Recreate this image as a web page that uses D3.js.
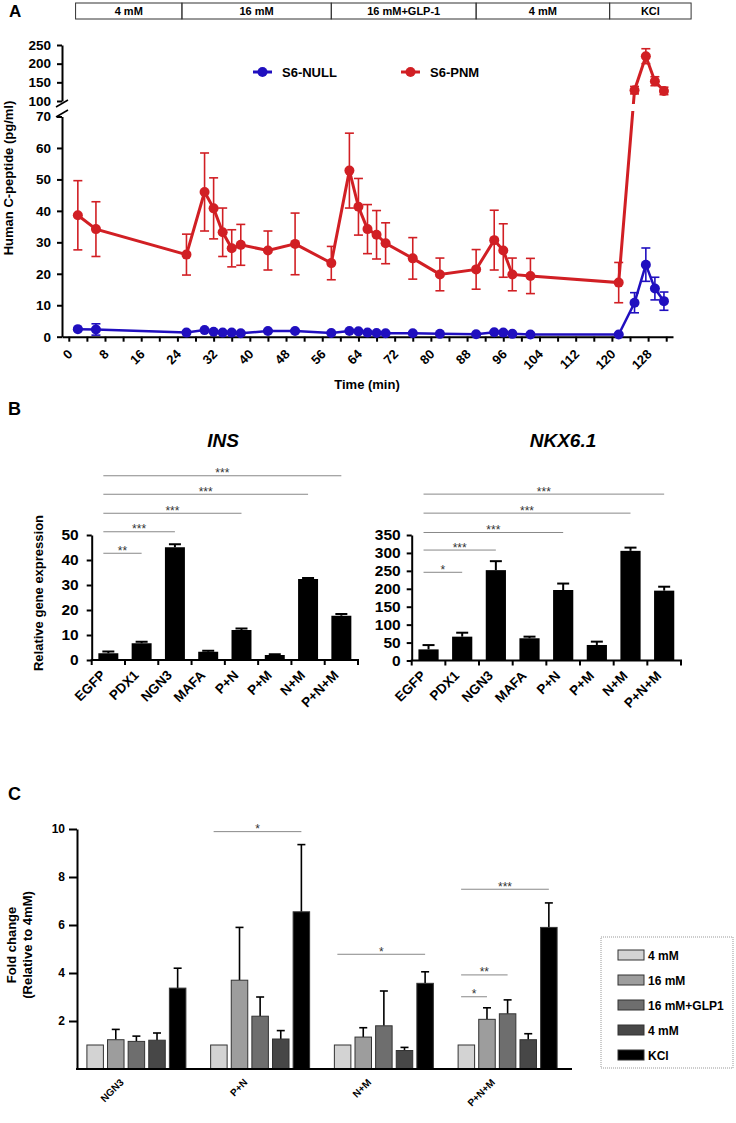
<!DOCTYPE html>
<html>
<head>
<meta charset="utf-8">
<script src="https://cdn.jsdelivr.net/npm/d3@7/dist/d3.min.js"></script>
<style>
html,body{margin:0;padding:0;background:#fff;}
svg{display:block;}
text{font-family:"Liberation Sans",Arial,Helvetica,sans-serif;}
</style>
</head>
<body>
<svg id="fig" width="736" height="1123" viewBox="0 0 736 1123"></svg>
<script>
// ================= DATA =================
// Panel A
const phaseLabels = ["4 mM", "16 mM", "16 mM+GLP-1", "4 mM", "KCl"];
const phaseBounds = [1.5, 25, 58, 90, 119.5, 137.5];
const timePoints = [2, 6, 26, 30, 32, 34, 36, 38, 44, 50, 58, 62, 64, 66, 68, 70, 76, 82, 90, 94, 96, 98, 102, 121.5, 125, 127.5, 129.5, 131.5];
const nullMean = [2.4, 2.3, 1.3, 2.1, 1.6, 1.3, 1.3, 1.1, 1.8, 1.8, 1.2, 1.8, 1.7, 1.3, 1.2, 1.1, 1.1, 0.9, 0.8, 1.4, 1.3, 0.9, 0.7, 0.7, 10.8, 22.9, 15.3, 11.3];
const nullSem  = [0.3, 1.8, 0.2, 0.3, 0.3, 0.2, 0.2, 0.2, 0.3, 0.3, 0.2, 0.3, 0.3, 0.2, 0.2, 0.2, 0.2, 0.2, 0.2, 0.3, 0.3, 0.2, 0.2, 0.2, 3.2, 5.3, 3.6, 2.9];
const pnmMean  = [38.6, 34.2, 26.1, 46.0, 40.8, 33.2, 28.1, 29.2, 27.4, 29.5, 23.4, 52.8, 41.3, 34.2, 32.4, 29.7, 24.9, 19.8, 21.4, 30.7, 27.4, 19.8, 19.3, 17.2, 129, 220, 153, 127];
const pnmSem   = [11.0, 8.7, 6.5, 12.4, 9.7, 7.7, 5.9, 6.5, 6.2, 9.8, 5.3, 11.9, 9.0, 7.8, 7.7, 6.5, 6.6, 5.2, 6.3, 9.5, 8.5, 5.2, 5.6, 6.4, 10, 20, 12, 10];
const timeTickLabels = [0, 8, 16, 24, 32, 40, 48, 56, 64, 72, 80, 88, 96, 104, 112, 120, 128];
const yLowerTicks = [0, 10, 20, 30, 40, 50, 60, 70];
const yUpperTicks = [100, 150, 200, 250];
const seriesNames = ["S6-NULL", "S6-PNM"];

// Panel B
const geneCategories = ["EGFP", "PDX1", "NGN3", "MAFA", "P+N", "P+M", "N+M", "P+N+M"];
const insMean = [2.7, 6.7, 45.1, 3.3, 12.0, 2.0, 32.4, 17.7];
const insErr  = [0.7, 0.6, 1.2, 0.4, 0.6, 0.3, 0.4, 0.7];
const insTicks = [0, 10, 20, 30, 40, 50];
const insSig = [["EGFP", "PDX1", "**", 42.7], ["EGFP", "NGN3", "***", 51.3], ["EGFP", "P+N", "***", 58.7], ["EGFP", "N+M", "***", 66.3], ["EGFP", "P+N+M", "***", 73.7]];
const nkxMean = [31, 66.5, 252, 62, 196.6, 43.3, 305.8, 194.8];
const nkxErr  = [12, 11, 25, 4.5, 18, 9.3, 9, 11];
const nkxTicks = [0, 50, 100, 150, 200, 250, 300, 350];
const nkxSig = [["EGFP", "PDX1", "*", 246], ["EGFP", "NGN3", "***", 308], ["EGFP", "P+N", "***", 357], ["EGFP", "N+M", "***", 411], ["EGFP", "P+N+M", "***", 464]];

// Panel C
const fcGenes = ["NGN3", "P+N", "N+M", "P+N+M"];
const fcConditions = ["4 mM", "16 mM", "16 mM+GLP1", "4 mM", "KCl"];
const fc4mM      = [1, 1, 1, 1];
const fc16mM     = [1.22, 3.7, 1.33, 2.07];
const fcGLP1     = [1.15, 2.2, 1.8, 2.3];
const fc4mMpost  = [1.2, 1.25, 0.77, 1.22];
const fcKCl      = [3.37, 6.55, 3.57, 5.9];
const err4mM     = [0, 0, 0, 0];
const err16mM    = [0.43, 2.2, 0.39, 0.48];
const errGLP1    = [0.22, 0.8, 1.45, 0.58];
const err4mMpost = [0.3, 0.35, 0.13, 0.25];
const errKCl     = [0.83, 2.8, 0.48, 1.02];
const fcTicks = [2, 4, 6, 8, 10];
const fcSig = [["P+N", 0, 4, "*", 9.89], ["N+M", 0, 4, "*", 4.78], ["P+N+M", 0, 4, "***", 7.49], ["P+N+M", 0, 2, "**", 3.92], ["P+N+M", 0, 1, "*", 3.01]];

// ================= DRAW =================
const svg = d3.select("#fig");
const RED = "#d11f24", BLUE = "#200fbf";

function styleAxis(g, size, sw) {
  g.selectAll(".domain").attr("stroke", "#000").attr("stroke-width", sw);
  g.selectAll(".tick line").attr("stroke", "#000").attr("stroke-width", sw);
  g.selectAll("text").attr("font-size", size).attr("font-weight", "bold").attr("fill", "#000")
    .style("font-family", '"Liberation Sans",Arial,sans-serif');
}

// panel letters
svg.append("text").attr("x", 9).attr("y", 17).attr("font-size", 17).attr("font-weight", "bold").text("A");
svg.append("text").attr("x", 8).attr("y", 415).attr("font-size", 18).attr("font-weight", "bold").text("B");
svg.append("text").attr("x", 8).attr("y", 800).attr("font-size", 18).attr("font-weight", "bold").text("C");

// ---------- Panel A ----------
const xA = d3.scaleLinear().domain([-1.5, 133.5]).range([62, 673]);
const yA = d3.scaleLinear().domain([0, 70, 100, 250]).range([336.7, 116.5, 101, 45]);
const yALow = d3.scaleLinear().domain([0, 70]).range([336.7, 116.5]);
const yAUp = d3.scaleLinear().domain([100, 250]).range([101, 45]);
const gA = svg.append("g");

// header boxes
phaseLabels.forEach((lab, i) => {
  const xa = xA(phaseBounds[i]), xb = xA(phaseBounds[i + 1]);
  gA.append("rect").attr("x", xa).attr("y", 3).attr("width", xb - xa).attr("height", 16)
    .attr("fill", "none").attr("stroke", "#333").attr("stroke-width", 1);
  gA.append("text").attr("x", (xa + xb) / 2).attr("y", 15).attr("text-anchor", "middle")
    .attr("font-size", 11).attr("font-weight", "bold").text(lab);
});

// axes
const axLow = gA.append("g").attr("transform", "translate(62,0)")
  .call(d3.axisLeft(yALow).tickValues(yLowerTicks).tickSize(5).tickPadding(6).tickSizeOuter(0));
styleAxis(axLow, 13.5, 2);
const axUp = gA.append("g").attr("transform", "translate(62,0)")
  .call(d3.axisLeft(yAUp).tickValues(yUpperTicks).tickSize(5).tickPadding(6).tickSizeOuter(0));
styleAxis(axUp, 13.5, 2);
// break marks
gA.append("line").attr("x1", 56).attr("y1", 107).attr("x2", 68).attr("y2", 100).attr("stroke", "#000").attr("stroke-width", 1.5);
gA.append("line").attr("x1", 56).attr("y1", 117).attr("x2", 68).attr("y2", 110).attr("stroke", "#000").attr("stroke-width", 1.5);

const axX = gA.append("g").attr("transform", "translate(0,336.7)")
  .call(d3.axisBottom(xA).tickValues(d3.range(0, 133, 4)).tickSize(5).tickSizeOuter(0).tickFormat(""));
styleAxis(axX, 13, 2);
gA.selectAll(".xlabA").data(timeTickLabels).join("text").attr("class", "xlabA")
  .attr("transform", d => `translate(${xA(d) + 4.5},355) rotate(-45)`)
  .attr("text-anchor", "end").attr("font-size", 13).attr("font-weight", "bold").text(d => d);

gA.append("text").attr("x", 367).attr("y", 389).attr("text-anchor", "middle")
  .attr("font-size", 13).attr("font-weight", "bold").text("Time (min)");
gA.append("text").attr("transform", "translate(13,178) rotate(-90)").attr("text-anchor", "middle")
  .attr("font-size", 13).attr("font-weight", "bold").text("Human C-peptide (pg/ml)");

// series
const idx = d3.range(timePoints.length);
const lineGen = vals => d3.line().x(i => xA(timePoints[i])).y(i => yA(vals[i]))(idx);
gA.append("path").attr("d", lineGen(nullMean)).attr("fill", "none").attr("stroke", BLUE).attr("stroke-width", 2.5);
gA.append("path").attr("d", lineGen(pnmMean)).attr("fill", "none").attr("stroke", RED).attr("stroke-width", 3);
// gap at the axis break
gA.append("rect").attr("x", 600).attr("y", 104).attr("width", 60).attr("height", 7).attr("fill", "#fff");

function errA(mean, sem, color) {
  const g = gA.append("g").attr("stroke", color).attr("stroke-width", 1.6);
  idx.forEach(i => {
    const x = xA(timePoints[i]);
    const y1 = yA(mean[i] - sem[i]), y2 = yA(mean[i] + sem[i]);
    g.append("line").attr("x1", x).attr("x2", x).attr("y1", y1).attr("y2", y2);
    g.append("line").attr("x1", x - 4.5).attr("x2", x + 4.5).attr("y1", y1).attr("y2", y1);
    g.append("line").attr("x1", x - 4.5).attr("x2", x + 4.5).attr("y1", y2).attr("y2", y2);
  });
  gA.append("g").selectAll("circle").data(idx).join("circle")
    .attr("cx", i => xA(timePoints[i])).attr("cy", i => yA(mean[i])).attr("r", 5).attr("fill", color);
}
errA(nullMean, nullSem, BLUE);
errA(pnmMean, pnmSem, RED);

// legend
[[253, BLUE, 282], [401, RED, 430]].forEach((d, k) => {
  gA.append("line").attr("x1", d[0]).attr("x2", d[0] + 19).attr("y1", 72).attr("y2", 72).attr("stroke", d[1]).attr("stroke-width", 3);
  gA.append("circle").attr("cx", d[0] + 9.5).attr("cy", 72).attr("r", 5).attr("fill", d[1]);
  gA.append("text").attr("x", d[2]).attr("y", 76.5).attr("font-size", 13).attr("font-weight", "bold").text(seriesNames[k]);
});

// ---------- Panel B ----------
function barPanel(o) {
  const g = svg.append("g");
  const x = d3.scaleBand().domain(geneCategories).range([o.x0, o.x1]).paddingInner(0.4).paddingOuter(0.2);
  const y = d3.scaleLinear().domain([0, o.max]).range([o.y0, o.yTop]);
  const bw = x.bandwidth(), st = x.step();
  g.append("text").attr("x", o.titleX).attr("y", 446.5).attr("text-anchor", "middle")
    .attr("font-size", 19).attr("font-weight", "bold").attr("font-style", "italic").text(o.title);
  g.selectAll("rect.bar").data(geneCategories).join("rect").attr("class", "bar")
    .attr("x", d => x(d)).attr("width", bw)
    .attr("y", (d, i) => y(o.mean[i])).attr("height", (d, i) => o.y0 - y(o.mean[i])).attr("fill", "#000");
  geneCategories.forEach((c, i) => {
    const cx = x(c) + bw / 2, yt = y(o.mean[i] + o.err[i]);
    g.append("line").attr("x1", cx).attr("x2", cx).attr("y1", y(o.mean[i])).attr("y2", yt).attr("stroke", "#000").attr("stroke-width", 2);
    g.append("line").attr("x1", cx - 6).attr("x2", cx + 6).attr("y1", yt).attr("y2", yt).attr("stroke", "#000").attr("stroke-width", 2);
  });
  const ay = g.append("g").attr("transform", `translate(${o.x0},0)`)
    .call(d3.axisLeft(y).tickValues(o.ticks).tickSize(5).tickPadding(o.pad).tickSizeOuter(0));
  styleAxis(ay, 15.5, 2);
  g.append("line").attr("x1", o.x0 - 1).attr("x2", o.x1 + 1).attr("y1", o.y0).attr("y2", o.y0).attr("stroke", "#000").attr("stroke-width", 2);
  const edges = geneCategories.map(c => x(c) - st * 0.2).concat([o.x1]);
  g.selectAll("line.xt").data(edges).join("line").attr("class", "xt")
    .attr("x1", d => d).attr("x2", d => d).attr("y1", o.y0).attr("y2", o.y0 + 5).attr("stroke", "#000").attr("stroke-width", 2);
  g.selectAll("text.xl").data(geneCategories).join("text").attr("class", "xl")
    .attr("transform", d => `translate(${x(d) + bw / 2 - 2},${o.y0 + 16}) rotate(-45)`)
    .attr("text-anchor", "end").attr("font-size", 13.5).attr("font-weight", "bold").text(d => d);
  o.sig.forEach(s => {
    const xa = x(s[0]) + bw / 2 - 5, xb = x(s[1]) + bw / 2, yy = y(s[3]);
    g.append("line").attr("x1", xa).attr("x2", xb).attr("y1", yy).attr("y2", yy).attr("stroke", "#888").attr("stroke-width", 1);
    g.append("text").attr("x", (xa + xb) / 2).attr("y", yy + 1.5).attr("text-anchor", "middle")
      .attr("font-size", 12).attr("fill", "#333").text(s[2]);
  });
  return g;
}
barPanel({x0: 91.7, x1: 358, y0: 660, yTop: 535, max: 50, mean: insMean, err: insErr, ticks: insTicks, sig: insSig, title: "INS", titleX: 223, pad: 8});
barPanel({x0: 411.7, x1: 681, y0: 660.5, yTop: 535, max: 350, mean: nkxMean, err: nkxErr, ticks: nkxTicks, sig: nkxSig, title: "NKX6.1", titleX: 563, pad: 6});
svg.append("text").attr("transform", "translate(43,593) rotate(-90)").attr("text-anchor", "middle")
  .attr("font-size", 13).attr("font-weight", "bold").text("Relative gene expression");

// ---------- Panel C ----------
const gC = svg.append("g");
const xC = d3.scaleBand().domain(fcGenes).range([77, 567]).paddingInner(0.2).paddingOuter(0.08);
const xCi = d3.scaleBand().domain(d3.range(fcConditions.length)).range([0, xC.bandwidth()]).paddingInner(0.2);
const yC = d3.scaleLinear().domain([0, 10]).range([1069, 829]);
const fcSeries = [fc4mM, fc16mM, fcGLP1, fc4mMpost, fcKCl];
const fcErrSeries = [err4mM, err16mM, errGLP1, err4mMpost, errKCl];
const fcColors = ["#d3d3d3", "#9d9d9d", "#6e6e6e", "#474747", "#000000"];

fcGenes.forEach((gname, gi) => {
  fcSeries.forEach((ser, si) => {
    const bx = xC(gname) + xCi(si), bwi = xCi.bandwidth();
    const v = ser[gi], e = fcErrSeries[si][gi];
    if (e > 0) {
      const cx = bx + bwi / 2, yt = yC(v + e);
      gC.append("line").attr("x1", cx).attr("x2", cx).attr("y1", yC(v)).attr("y2", yt).attr("stroke", "#000").attr("stroke-width", 1.6);
      gC.append("line").attr("x1", cx - 4).attr("x2", cx + 4).attr("y1", yt).attr("y2", yt).attr("stroke", "#000").attr("stroke-width", 1.6);
    }
    gC.append("rect").attr("x", bx).attr("y", yC(v)).attr("width", bwi).attr("height", yC(0) - yC(v))
      .attr("fill", fcColors[si]).attr("stroke", "#333").attr("stroke-width", 1);
  });
});
const ayC = gC.append("g").attr("transform", "translate(77,0)")
  .call(d3.axisLeft(yC).tickValues(fcTicks).tickSize(8).tickPadding(4).tickSizeOuter(0));
styleAxis(ayC, 12, 2);
gC.append("line").attr("x1", 76).attr("x2", 572).attr("y1", 1069).attr("y2", 1069).attr("stroke", "#000").attr("stroke-width", 2);
gC.selectAll("text.xlc").data(fcGenes).join("text").attr("class", "xlc")
  .attr("transform", d => `translate(${xC(d) + xC.bandwidth() / 2 - 12},1083) rotate(-45)`)
  .attr("text-anchor", "end").attr("font-size", 10).attr("font-weight", "bold").text(d => d);
gC.append("text").attr("transform", "translate(16,945) rotate(-90)").attr("text-anchor", "middle")
  .attr("font-size", 13).attr("font-weight", "bold").text("Fold change");
gC.append("text").attr("transform", "translate(32,945) rotate(-90)").attr("text-anchor", "middle")
  .attr("font-size", 13).attr("font-weight", "bold").text("(Relative to 4mM)");
fcSig.forEach(s => {
  const base = xC(s[0]);
  const xa = base + xCi(s[1]) + 3, xb = base + xCi(s[2]) + xCi.bandwidth() / 2, yy = yC(s[4]);
  gC.append("line").attr("x1", xa).attr("x2", xb).attr("y1", yy).attr("y2", yy).attr("stroke", "#888").attr("stroke-width", 1);
  gC.append("text").attr("x", (xa + xb) / 2).attr("y", yy + 1.5).attr("text-anchor", "middle")
    .attr("font-size", 12).attr("fill", "#333").text(s[3]);
});
gC.append("rect").attr("x", 601).attr("y", 937).attr("width", 132).attr("height", 131)
  .attr("fill", "none").attr("stroke", "#999").attr("stroke-width", 1).attr("stroke-dasharray", "1,1");
fcConditions.forEach((c, i) => {
  const yy = 955 + i * 25;
  gC.append("rect").attr("x", 618).attr("y", yy - 5).attr("width", 26).attr("height", 10)
    .attr("fill", fcColors[i]).attr("stroke", "#333").attr("stroke-width", 1);
  gC.append("text").attr("x", 648).attr("y", yy + 4.5).attr("font-size", 12).attr("font-weight", "bold").text(c);
});
</script>
</body>
</html>
